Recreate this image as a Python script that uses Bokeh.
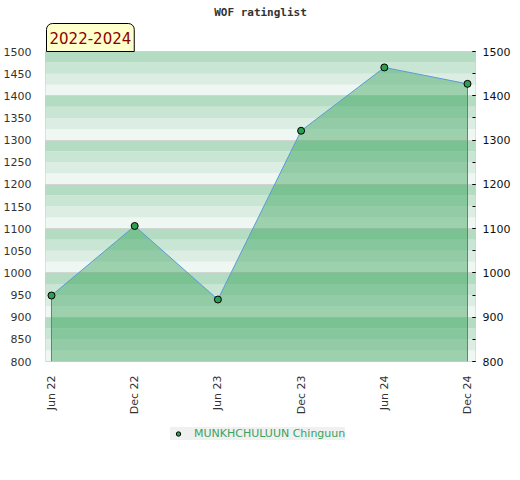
import numpy as np
from bokeh.plotting import figure
from bokeh.layouts import column
from bokeh.models import (Range1d, LinearAxis, SingleIntervalTicker, FixedTicker,
                          Title, Legend, LegendItem)
from bokeh.embed import file_html
from bokeh.resources import INLINE

# ---- data ----
periods = ["Jun 22", "Dec 22", "Jun 23", "Dec 23", "Jun 24", "Dec 24"]
ratings = [949, 1106, 940, 1321, 1464, 1427]
player = "MUNKHCHULUUN Chinguun"
title_text = "WOF ratinglist"
span_label = "2022-2024"
y_min, y_max = 800, 1500

x = list(range(len(periods)))

marker_style = dict(size=7, fill_color="#2e9e50", line_color="black", line_width=1)

p = figure(title=None, frame_width=430, frame_height=310,
           min_border_left=37, min_border_right=37,
           min_border_top=50, min_border_bottom=50,
           x_range=Range1d(-0.072, 5.096), y_range=Range1d(y_min, y_max),
           output_backend="svg", toolbar_location=None)
p.background_fill_color = "white"
p.border_fill_color = "white"
p.outline_line_color = "#cccccc"
p.grid.visible = False

# background bands (decoration)
edges = np.arange(y_min, y_max, 25)
band_colors = ["#eef7f1", "#dcede3", "#c9e5d4", "#b3dcc2"]
cols = [band_colors[i % 4] for i in range(len(edges))]
p.quad(left=-1, right=7, bottom=edges, top=edges + 25, fill_color=cols, line_color=None)
p.hspan(y=list(range(y_min, y_max + 1, 100)), line_color="#d2d6d3", line_width=1)

# area
p.varea(x=x, y1=y_min, y2=ratings, fill_color="#2e9e50", fill_alpha=0.42)
p.segment(x0=[x[0], x[-1]], y0=[y_min, y_min], x1=[x[0], x[-1]],
          y1=[ratings[0], ratings[-1]], line_color="#3a9d5a", line_width=1)
p.line(x, ratings, line_color="#5b9bd5", line_width=1)
p.scatter(x, ratings, **marker_style)

# period label box (closest to frame)
t_span = Title(text=span_label, align="left", offset=1, standoff=0,
               text_color="#8b0000", text_font="DejaVu Sans", text_font_size="15px",
               text_font_style="normal",
               background_fill_color="#ffffcc", border_line_color="black",
               border_line_width=1, padding=(3, 8), border_radius=(6, 6, 0, 0))
p.add_layout(t_span, "above")

# main title
t_main = Title(text=title_text, align="center", standoff=6,
               text_font="DejaVu Sans Mono", text_font_size="11px",
               text_font_style="bold", text_color="#333333")
p.add_layout(t_main, "above")

# x axis
xa = p.xaxis[0]
xa.ticker = FixedTicker(ticks=x)
xa.major_label_overrides = {i: s for i, s in enumerate(periods)}
xa.major_label_orientation = np.pi / 2
xa.major_label_text_font = "DejaVu Sans"
xa.major_label_text_font_size = "11px"
xa.major_label_text_color = "#333333"
xa.axis_line_color = None
xa.major_tick_line_color = None
xa.minor_tick_line_color = None
xa.major_label_standoff = 8

# left axis
ya = p.yaxis[0]
ya.ticker = SingleIntervalTicker(interval=50)
ya.major_label_text_font = "DejaVu Sans"
ya.major_label_text_font_size = "11px"
ya.major_label_text_color = "#333333"
ya.axis_line_color = None
ya.major_tick_line_color = None
ya.minor_tick_line_color = None
ya.major_label_standoff = 8

# right axis
ra = LinearAxis(ticker=SingleIntervalTicker(interval=100, num_minor_ticks=2))
ra.major_label_text_font = "DejaVu Sans"
ra.major_label_text_font_size = "11px"
ra.major_label_text_color = "#111111"
ra.axis_line_color = None
ra.major_tick_in = 3
ra.major_tick_out = 0
ra.minor_tick_in = 3
ra.minor_tick_out = 0
ra.major_tick_line_color = "black"
ra.minor_tick_line_color = "black"
ra.major_label_standoff = 7
p.add_layout(ra, "right")

# legend strip (separate figure below the chart)
p2 = figure(frame_width=430, frame_height=60,
            min_border_left=37, min_border_right=37,
            min_border_top=0, min_border_bottom=0,
            x_range=Range1d(-0.072, 5.096), y_range=Range1d(y_min, y_max),
            x_axis_location=None, y_axis_location=None,
            output_backend="svg", toolbar_location=None)
p2.outline_line_color = None
p2.grid.visible = False
r2 = p2.scatter(x, ratings, **marker_style)
r2.visible = False
legend = Legend(items=[LegendItem(label=player, renderers=[r2])],
                location=(125, 37), orientation="horizontal",
                background_fill_color="#f0f0f0", background_fill_alpha=1,
                border_line_color=None, inactive_fill_alpha=0,
                label_text_color="#3aa35f", label_text_font="DejaVu Sans",
                label_text_font_size="11px", margin=0, padding=5,
                glyph_width=16, glyph_height=11, label_standoff=8)
p2.add_layout(legend)

layout = column(p, p2, spacing=0)
open("out.html", "w").write(file_html(layout, INLINE))
